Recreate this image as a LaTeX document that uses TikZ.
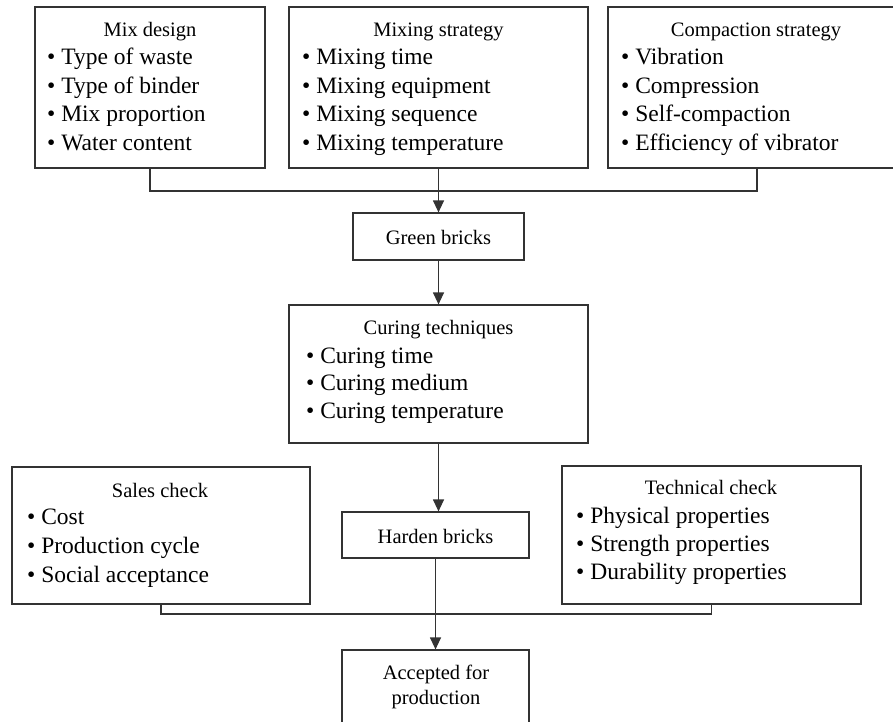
\documentclass[tikz,border=0pt]{standalone}
\usepackage{fontspec}
\setmainfont{Liberation Serif}
\usetikzlibrary{arrows.meta}
\definecolor{linec}{HTML}{333333}
\tikzset{
  box/.style={draw=linec, line width=1.2pt, inner sep=0pt},
  ttl/.style={anchor=base, inner sep=0pt, font=\fontsize{20.5}{24}\selectfont},
  itm/.style={anchor=base west, inner sep=0pt, font=\fontsize{23.5}{28}\selectfont},
  conn/.style={draw=linec, line width=1.2pt},
  arr/.style={conn, -{Triangle[width=11pt,length=12pt]}}
}
\begin{document}
\begin{tikzpicture}[x=1pt,y=-1pt]
\useasboundingbox (0,0) rectangle (893,721);
% top boxes
\node[box, minimum width=230pt, minimum height=161pt] (mix) at (150,87.5) {};
\node[box, minimum width=299pt, minimum height=161pt] (mixs) at (438.5,87.5) {};
\node[box, minimum width=298pt, minimum height=161pt] (comp) at (757,87.5) {};
\node[ttl] (mixT) at (150,36) {Mix design};
\node[ttl] (mixsT) at (438.5,36) {Mixing strategy};
\node[ttl] (compT) at (756,36) {Compaction strategy};
\foreach \t [count=\i] in {Type of waste,Type of binder,Mix proportion,Water content}
  \node[itm] (mix\i) at (47,{64.5+28.7*(\i-1)}) {\textbullet\ \t};
\foreach \t [count=\i] in {Mixing time,Mixing equipment,Mixing sequence,Mixing temperature}
  \node[itm] (mixs\i) at (302,{64.5+28.7*(\i-1)}) {\textbullet\ \t};
\foreach \t [count=\i] in {Vibration,Compression,Self-compaction,Efficiency of vibrator}
  \node[itm] (comp\i) at (621,{64.5+28.7*(\i-1)}) {\textbullet\ \t};
% green bricks
\node[box, minimum width=171pt, minimum height=47pt] (green) at (438.5,236.5) {};
\node[ttl] (greenT) at (438.5,244) {Green bricks};
% curing
\node[box, minimum width=299pt, minimum height=138pt] (curing) at (438.5,374) {};
\node[ttl] (curingT) at (438.5,334) {Curing techniques};
\foreach \t [count=\i] in {Curing time,Curing medium,Curing temperature}
  \node[itm] (cur\i) at (306,{363+27.5*(\i-1)}) {\textbullet\ \t};
% sales check
\node[box, minimum width=298pt, minimum height=137pt] (sales) at (161,535.5) {};
\node[ttl] (salesT) at (160,497) {Sales check};
\foreach \t [count=\i] in {Cost,Production cycle,Social acceptance}
  \node[itm] (sal\i) at (27,{524.5+29*(\i-1)}) {\textbullet\ \t};
% technical check
\node[box, minimum width=299pt, minimum height=138pt] (tech) at (711.5,535) {};
\node[ttl] (techT) at (711,494) {Technical check};
\foreach \t [count=\i] in {Physical properties,Strength properties,Durability properties}
  \node[itm] (tec\i) at (576,{523+28*(\i-1)}) {\textbullet\ \t};
% harden bricks
\node[box, minimum width=187pt, minimum height=46pt] (harden) at (435.5,535) {};
\node[ttl] (hardenT) at (435.5,543) {Harden bricks};
% accepted
\node[box, minimum width=187pt, minimum height=96pt] (acc) at (435.5,698) {};
\node[ttl] (acc1) at (436,679) {Accepted for};
\node[ttl] (acc2) at (436,704) {production};
% connectors
\coordinate (topbus) at (0,191);
\draw[conn] (mix.south) |- (topbus -| comp.south) -- (comp.south);
\draw[arr] (mixs.south) -- (green.north);
\draw[arr] (green.south) -- (curing.north);
\draw[arr] (curing.south) -- (curing.south |- harden.north);
\coordinate (botbus) at (0,614);
\draw[conn] (sales.south) |- (botbus -| tech.south) -- (tech.south);
\draw[arr] (harden.south) -- (acc.north);
\end{tikzpicture}
\end{document}
